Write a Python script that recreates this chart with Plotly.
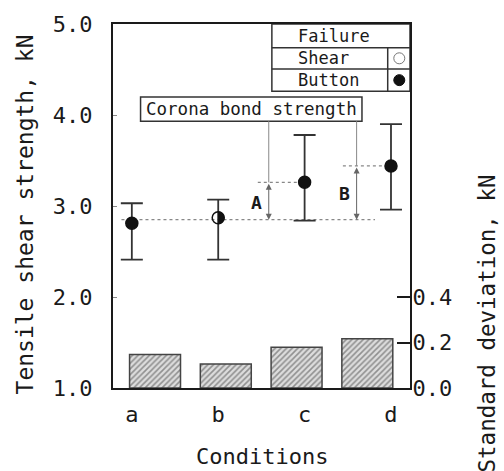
import plotly.graph_objects as go

# ---------------- data ----------------
categories = ["a", "b", "c", "d"]
mean_strength = [2.81, 2.87, 3.26, 3.44]      # kN
upper_strength = [3.03, 3.07, 3.78, 3.90]     # kN
lower_strength = [2.41, 2.41, 2.84, 2.96]     # kN
std_dev = [0.147, 0.105, 0.179, 0.217]        # kN
failure_mode = ["Button", "Mixed", "Button", "Button"]
reference_level = 2.85                         # kN (corona bond baseline)

left_ticks = [1.0, 2.0, 3.0, 4.0, 5.0]
right_ticks = [0.0, 0.2, 0.4]

FONT = "DejaVu Sans Mono"
INK = "#1a1a1a"

idx = list(range(len(categories)))
err_plus = [u - m for u, m in zip(upper_strength, mean_strength)]
err_minus = [m - l for m, l in zip(mean_strength, lower_strength)]

fig = go.Figure()

# standard deviation bars (secondary axes)
fig.add_trace(go.Bar(
    x=idx, y=std_dev, xaxis="x2", yaxis="y2", width=0.72,
    marker=dict(color="white",
                line=dict(color="#444444", width=1.5),
                pattern=dict(shape="/", fgcolor="#444444", bgcolor="#dddddd",
                             size=4, solidity=0.4)),
    showlegend=False, hoverinfo="skip"))

# dotted reference lines
fig.add_trace(go.Scatter(x=[-0.12, 2.815], y=[reference_level] * 2, mode="lines",
                         line=dict(color="#888888", width=1.2, dash="dot"),
                         showlegend=False, hoverinfo="skip"))
fig.add_trace(go.Scatter(x=[1.458, idx[2]], y=[mean_strength[2]] * 2, mode="lines",
                         line=dict(color="#888888", width=1.2, dash="dot"),
                         showlegend=False, hoverinfo="skip"))
fig.add_trace(go.Scatter(x=[2.443, idx[3]], y=[mean_strength[3]] * 2, mode="lines",
                         line=dict(color="#888888", width=1.2, dash="dot"),
                         showlegend=False, hoverinfo="skip"))

# connector lines from the "Corona bond strength" box
box_bottom = 3.932
for xc, m in [(1.585, mean_strength[2]), (2.602, mean_strength[3])]:
    fig.add_trace(go.Scatter(x=[xc, xc], y=[box_bottom, m], mode="lines",
                             line=dict(color="#888888", width=1),
                             showlegend=False, hoverinfo="skip"))

# mean strength with ranges
symbols = ["circle" if f == "Button" else "circle-open" for f in failure_mode]
fig.add_trace(go.Scatter(
    x=idx, y=mean_strength, mode="markers",
    marker=dict(symbol=symbols, size=12, color="#111111",
                line=dict(color="#111111", width=1.5)),
    error_y=dict(type="data", symmetric=False, array=err_plus, arrayminus=err_minus,
                 color="#333333", thickness=1.8, width=11),
    showlegend=False, hoverinfo="skip"))

shapes = []
annotations = []

# half-filled marker for mixed failure
r = 6
k = 0.5523 * r
half_path = (f"M 0 {r} C {k} {r} {r} {k} {r} 0 C {r} {-k} {k} {-r} 0 {-r} Z")
for i, f in enumerate(failure_mode):
    if f == "Mixed":
        shapes.append(dict(type="path", xref="x", yref="y", xsizemode="pixel",
                           ysizemode="pixel", xanchor=idx[i], yanchor=mean_strength[i],
                           path=half_path, fillcolor="#111111",
                           line=dict(color="#111111", width=0.5)))

# double-headed arrows A and B
for xc, m in [(1.585, mean_strength[2]), (2.602, mean_strength[3])]:
    annotations.append(dict(x=xc, y=reference_level, ax=xc, ay=m, xref="x", yref="y",
                            axref="x", ayref="y", text="", showarrow=True,
                            arrowhead=2, arrowsize=1.2, arrowwidth=1,
                            arrowside="end+start", arrowcolor="#666666"))
annotations.append(dict(x=1.443, y=3.04, xref="x", yref="y", text="<b>A</b>",
                        showarrow=False, font=dict(family=FONT, size=18, color=INK)))
annotations.append(dict(x=2.459, y=3.14, xref="x", yref="y", text="<b>B</b>",
                        showarrow=False, font=dict(family=FONT, size=18, color=INK)))

# Corona bond strength box
shapes.append(dict(type="rect", xref="x", yref="y", x0=0.101, x1=2.664, y0=3.932, y1=4.199,
                   line=dict(color="#333333", width=1.5), fillcolor="white", layer="below"))
annotations.append(dict(x=1.383, y=4.066, xref="x", yref="y", text="Corona bond strength",
                        showarrow=False, font=dict(family=FONT, size=17.5, color=INK)))

# failure mode table
tl = dict(color="#333333", width=1.5)
shapes.append(dict(type="rect", xref="x", yref="y", x0=1.621, x1=3.22, y0=4.260, y1=5.0,
                   line=tl, fillcolor="white"))
shapes.append(dict(type="line", xref="x", yref="y", x0=1.621, x1=3.22, y0=4.740, y1=4.740, line=tl))
shapes.append(dict(type="line", xref="x", yref="y", x0=1.621, x1=3.22, y0=4.506, y1=4.506, line=tl))
shapes.append(dict(type="line", xref="x", yref="y", x0=2.962, x1=2.962, y0=4.260, y1=4.740, line=tl))
shapes.append(dict(type="circle", xref="x", yref="y", xsizemode="pixel", ysizemode="pixel",
                   xanchor=3.096, yanchor=4.623, x0=-5.5, x1=5.5, y0=-5.5, y1=5.5,
                   line=dict(color="#777777", width=1), fillcolor="white"))
shapes.append(dict(type="circle", xref="x", yref="y", xsizemode="pixel", ysizemode="pixel",
                   xanchor=3.096, yanchor=4.383, x0=-5.5, x1=5.5, y0=-5.5, y1=5.5,
                   line=dict(color="#111111", width=1), fillcolor="#111111"))
for txt, yy in [("Failure", 4.872), ("Shear", 4.623), ("Button", 4.383)]:
    annotations.append(dict(x=1.898, y=yy, xref="x", yref="y", text=txt, xanchor="left",
                            showarrow=False, font=dict(family=FONT, size=17, color=INK)))

# axis titles
annotations.append(dict(x=-0.296, y=0.477, xref="paper", yref="paper",
                        xanchor="center", yanchor="middle",
                        text="Tensile shear strength, kN", textangle=-90, showarrow=False,
                        font=dict(family=FONT, size=23, color=INK)))
annotations.append(dict(x=1.259, y=0.177, xref="paper", yref="paper",
                        xanchor="center", yanchor="middle",
                        text="Standard deviation, kN", textangle=-90, showarrow=False,
                        font=dict(family=FONT, size=22.5, color=INK)))
annotations.append(dict(x=0.5, y=-0.189, xref="paper", yref="paper",
                        xanchor="center", yanchor="middle",
                        text="Conditions", showarrow=False,
                        font=dict(family=FONT, size=22, color=INK)))

fig.update_layout(
    width=504, height=471,
    margin=dict(l=113, r=94, t=13, b=83),
    paper_bgcolor="white", plot_bgcolor="white",
    font=dict(family=FONT, size=22, color=INK),
    shapes=shapes, annotations=annotations,
    xaxis=dict(range=[-0.218, 3.22], tickvals=idx, ticktext=categories, ticks="",
               showline=True, linecolor=INK, linewidth=2, mirror=True,
               showgrid=False, zeroline=False, ticklabelstandoff=6),
    xaxis2=dict(range=[-0.594, 3.603], overlaying="x", anchor="y2", visible=False),
    yaxis=dict(range=[1, 5], tickvals=left_ticks, tickformat=".1f", ticks="inside",
               ticklen=4, tickcolor="#888888", showline=True, linecolor=INK, linewidth=2,
               showgrid=False, zeroline=False, ticklabelstandoff=14),
    yaxis2=dict(range=[0, 1.6], tickvals=right_ticks, tickformat=".1f", side="right",
                overlaying="y", anchor="x", ticks="inside", ticklen=13, tickcolor=INK,
                tickwidth=1.5, showline=True, linecolor=INK, linewidth=2,
                showgrid=False, zeroline=False, ticklabelstandoff=-4),
)

fig.write_html("out.html")
